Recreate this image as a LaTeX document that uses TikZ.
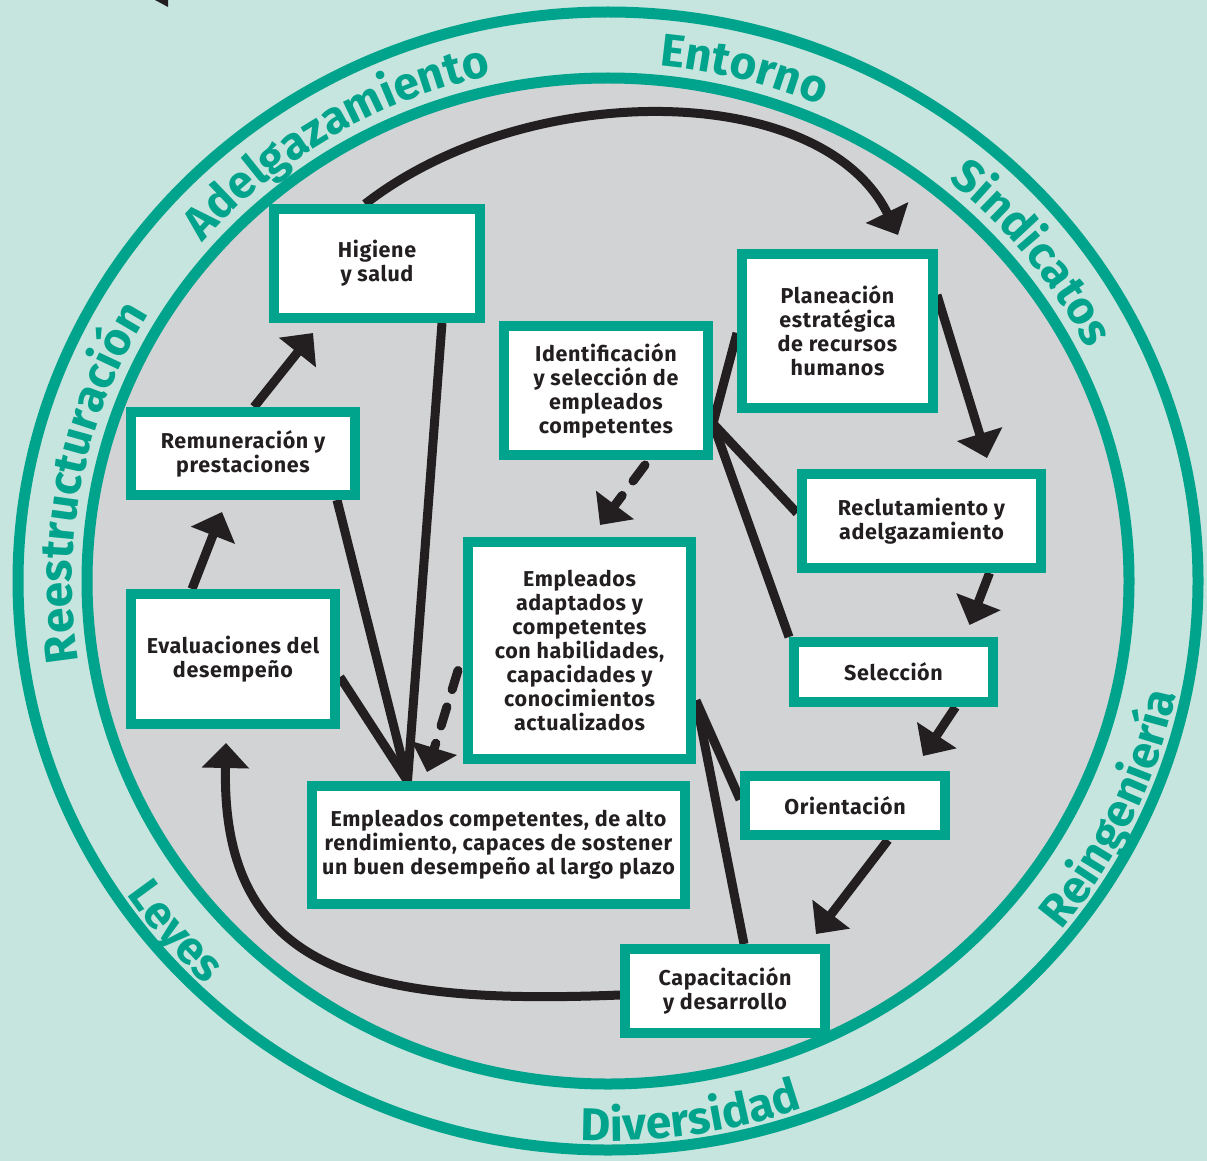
\documentclass[tikz,border=0pt]{standalone}
\usepackage{fontspec}
\setmainfont{Fira Sans}
\usepackage{xcolor}
\usepackage{tikz}
\usetikzlibrary{arrows.meta, calc, decorations.text}
\definecolor{hrteal}{RGB}{0, 163, 139}
\definecolor{hrmint}{RGB}{197, 229, 222}
\definecolor{hrgray}{RGB}{209, 211, 212}
\definecolor{hrink}{RGB}{35, 31, 32}
\pgfdeclarelayer{back}
\pgfdeclarelayer{links}
\pgfsetlayers{back,links,main}
\newcommand{\ringfont}{\fontsize{46}{46}\selectfont\bfseries\color{hrteal}}
\newcommand{\stagefont}{\fontsize{21.5}{24}\selectfont\bfseries\addfontfeatures{LetterSpace=3}}

\begin{document}
\begin{tikzpicture}[x=1pt, y=-1pt,
    stage/.style={draw=hrteal, line width=10pt, fill=white, text=hrink, align=center, inner sep=0pt, font=\stagefont},
    feed/.style={draw=hrink, line width=9pt},
    flow/.style={feed, -{Triangle[length=25pt, width=46pt]}},
    hint/.style={flow, dash pattern=on 20pt off 18pt, line cap=round}]
    \useasboundingbox (0,0) rectangle (1207,1161);
    \coordinate (hub) at (608,581);

    % The Stages (boxes)
    \node[stage, minimum width=206pt, minimum height=109pt] (hig) at (377,263.5) {Higiene\\y salud};
    \node[stage, minimum width=191pt, minimum height=154pt] (plan) at (837.5,331) {Planeación\\estratégica\\de recursos\\humanos};
    \node[stage, minimum width=204pt, minimum height=129pt] (ident) at (606,390.5) {Identificación\\y selección de\\empleados\\competentes};
    \node[stage, minimum width=224pt, minimum height=83pt] (remu) at (243,453.5) {Remuneración y\\prestaciones};
    \node[stage, minimum width=239pt, minimum height=94pt] (recl) at (921.5,521) {Reclutamiento y\\adelgazamiento};
    \node[stage, minimum width=223pt, minimum height=217pt] (adap) at (579.5,650.5) {Empleados\\adaptados y\\competentes\\con habilidades,\\capacidades y\\conocimientos\\actualizados};
    \node[stage, minimum width=204pt, minimum height=130pt] (eval) at (233,659) {Evaluaciones del\\desempeño};
    \node[stage, minimum width=199pt, minimum height=60pt] (sele) at (893.5,672) {Selección};
    \node[stage, minimum width=200pt, minimum height=59pt] (orie) at (845,805.5) {Orientación};
    \node[stage, minimum width=373pt, minimum height=118pt] (alto) at (498.5,845) {Empleados competentes, de alto\\rendimiento, capaces de sostener\\un buen desempeño al largo plazo};
    \node[stage, minimum width=200pt, minimum height=84pt] (capa) at (725,991) {Capacitación\\y desarrollo};

    % The Rings (environment)
    \begin{pgfonlayer}{back}
        \fill[hrmint] (0,0) rectangle (1207,1161);
        \fill[hrgray] (hub) ellipse [x radius=521, y radius=503];
        \draw[hrteal, line width=11pt] (hub) ellipse [x radius=521, y radius=503];
        \draw[hrteal, line width=11pt] (hub) ellipse [x radius=590, y radius=569];
        \fill[hrink] (155,0) -- (168,0) -- (168,7) -- cycle;
        % Words on the ring
        \path[decorate, decoration={text along path, text align=center, text={|\ringfont|Adelgazamiento}}]
            ($(hub)+(-150:536 and 518)$) arc[start angle=-150, end angle=-92, x radius=536, y radius=518];
        \path[decorate, decoration={text along path, text align=center, text={|\ringfont|Entorno}}]
            ($(hub)+(-95:536 and 518)$) arc[start angle=-95, end angle=-56, x radius=536, y radius=518];
        \path[decorate, decoration={text along path, text align=center, text={|\ringfont|Sindicatos}}]
            ($(hub)+(-60:536 and 518)$) arc[start angle=-60, end angle=-17, x radius=536, y radius=518];
        \path[decorate, decoration={text along path, text align=center, text={|\ringfont|Reestructuración}}]
            ($(hub)+(-205:536 and 518)$) arc[start angle=-205, end angle=-133, x radius=536, y radius=518];
        \path[decorate, decoration={text along path, text align=center, text={|\ringfont|Reingeniería}}]
            ($(hub)+(50:580 and 560)$) arc[start angle=50, end angle=0, x radius=580, y radius=560];
        \path[decorate, decoration={text along path, text align=center, text={|\ringfont|Diversidad}}]
            ($(hub)+(106:580 and 560)$) arc[start angle=106, end angle=57, x radius=580, y radius=560];
        \path[decorate, decoration={text along path, text align=center, text={|\ringfont|Leyes}}]
            ($(hub)+(-205:580 and 560)$) arc[start angle=-205, end angle=-235, x radius=580, y radius=560];
    \end{pgfonlayer}

    % The Cycle (arrows between stages)
    \begin{pgfonlayer}{links}
        \draw[flow] ($(hig.north)+(-12,0)$) .. controls (527,78) and (822,80) .. ($(plan.north)+(60.5,-14)$);
        \draw[flow] ($(plan.north east)+(-1,46)$) -- ($(recl.north)+(65.5,-11)$);
        \draw[flow] ($(recl.south)+(68,0)$) -- ($(sele.north)+(76,-12)$);
        \draw[flow] ($(sele.south)+(62,0)$) -- ($(orie.north)+(78,-15)$);
        \draw[flow] ($(orie.south)+(43,0)$) -- ($(capa.north)+(91,-10)$);
        \draw[flow] ($(capa.west)+(0,4)$) .. controls (370,1005) and (221,975) .. ($(eval.south)+(-7,14)$);
        \draw[flow] ($(eval.north)+(-41,0)$) -- ($(remu.south)+(-21,12)$);
        \draw[flow] ($(remu.north)+(11,0)$) -- ($(hig.south)+(-64,10)$);
        % Dashed links
        \draw[hint] ($(ident.south)+(39,5)$) -- ($(adap.north)+(20.5,-12)$);
        \draw[hint] ($(adap.west)+(-5,20)$) -- ($(alto.north)+(-71.5,-9)$);
        % Plain links
        \coordinate (meet) at ($(alto.north)+(-91,0)$);
        \foreach \src/\dx/\dy in {hig.south/65/0, remu.south/94/0, eval.east/0/18}
            \draw[feed] ($(\src)+(\dx,\dy)$) -- (meet);
        \foreach \tgt/\dy in {plan.west/2, recl.west/-8, sele.north west/0}
            \draw[feed] ($(ident.east)+(0,33)$) -- ($(\tgt)+(0,\dy)$);
        \foreach \tgt/\dx/\dy in {orie.west/0/-6, capa.north/19/0}
            \draw[feed] ($(adap.east)+(0,50)$) -- ($(\tgt)+(\dx,\dy)$);
    \end{pgfonlayer}
\end{tikzpicture}
\end{document}
